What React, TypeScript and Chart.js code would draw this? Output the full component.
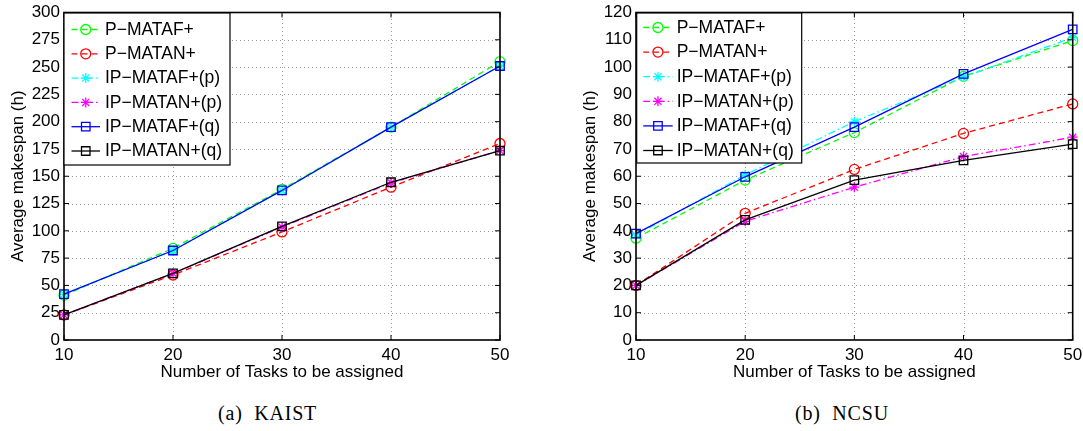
import React, { useEffect, useRef } from 'react';
import { Chart, registerables } from 'chart.js';

Chart.register(...registerables);

// ---------- data ----------
const tasks = [10, 20, 30, 40, 50];

const seriesLabels = [
  'P\u2212MATAF+',
  'P\u2212MATAN+',
  'IP\u2212MATAF+(p)',
  'IP\u2212MATAN+(p)',
  'IP\u2212MATAF+(q)',
  'IP\u2212MATAN+(q)',
];

// KAIST (left)
const kaistPMataf = [41, 84, 138, 195, 255];
const kaistPMatan = [23, 59.5, 99, 140, 180];
const kaistIPMatafP = [42, 82, 137, 195, 251];
const kaistIPMatanP = [23, 61, 103.5, 144, 173.5];
const kaistIPMatafQ = [42, 82, 137, 195, 251];
const kaistIPMatanQ = [23, 61, 104, 144.5, 173.5];

// NCSU (right)
const ncsuPMataf = [37.3, 58.6, 76, 96.6, 109.7];
const ncsuPMatan = [20, 46.4, 62.5, 75.7, 86.5];
const ncsuIPMatafP = [38.5, 60.5, 80, 96.4, 110.8];
const ncsuIPMatanP = [20, 43.5, 56, 67.2, 74.3];
const ncsuIPMatafQ = [39, 59.8, 78, 97.5, 113.8];
const ncsuIPMatanQ = [20, 44, 58.6, 65.8, 71.8];

const kaistYTicks = { max: 300, step: 25 };
const ncsuYTicks = { max: 120, step: 10 };

const xTitle = 'Number of Tasks to be assigned';
const yTitle = 'Average makespan (h)';
const captions = ['(a)  KAIST', '(b)  NCSU'];

// ---------- styles ----------
type Marker = 'circle' | 'rect' | 'star';
const seriesStyles: { color: string; dash: number[]; marker: Marker; radius: number }[] = [
  { color: '#00ff00', dash: [6, 4], marker: 'circle', radius: 5 },
  { color: '#ff0000', dash: [6, 4], marker: 'circle', radius: 5 },
  { color: '#00ffff', dash: [7, 3, 1.5, 3], marker: 'star', radius: 5 },
  { color: '#ff00ff', dash: [7, 3, 1.5, 3], marker: 'star', radius: 5 },
  { color: '#0000ff', dash: [], marker: 'rect', radius: 6 },
  { color: '#000000', dash: [], marker: 'rect', radius: 6 },
];

const FONT = '"Liberation Sans", Arial, Helvetica, sans-serif';
const CANVAS_H = 392;
const PLOT_TOP = 12.5;
const PLOT_BOTTOM = 340;

type LegendBox = {
  dx: number; dy: number; w: number; h: number;
  row0: number; rowGap: number; lineX0: number; lineX1: number; textX: number;
};

function drawMarker(ctx: CanvasRenderingContext2D, m: Marker, x: number, y: number, r: number) {
  ctx.beginPath();
  if (m === 'circle') {
    ctx.arc(x, y, r, 0, Math.PI * 2);
  } else if (m === 'rect') {
    const s = r * Math.SQRT1_2;
    ctx.rect(x - s, y - s, 2 * s, 2 * s);
  } else {
    for (let k = 0; k < 4; k++) {
      const a = (k * Math.PI) / 4;
      ctx.moveTo(x - Math.cos(a) * r, y - Math.sin(a) * r);
      ctx.lineTo(x + Math.cos(a) * r, y + Math.sin(a) * r);
    }
  }
  ctx.stroke();
}

function framePlugin(legend: LegendBox) {
  return {
    id: 'matlabFrame',
    beforeDatasetsDraw(chart: any) {
      const ctx: CanvasRenderingContext2D = chart.ctx;
      const { left, right, top, bottom } = chart.chartArea;
      const xs = chart.scales.x;
      const ys = chart.scales.y;
      ctx.save();
      ctx.strokeStyle = '#9a9a9a';
      ctx.lineWidth = 1;
      ctx.setLineDash([1, 3]);
      ys.ticks.forEach((t: any) => {
        const y = Math.round(ys.getPixelForValue(t.value)) + 0.5;
        if (y < top + 2 || y > bottom - 2) return;
        ctx.beginPath();
        ctx.moveTo(left, y); ctx.lineTo(right, y);
        ctx.stroke();
      });
      xs.ticks.forEach((t: any) => {
        const x = Math.round(xs.getPixelForValue(t.value)) + 0.5;
        if (x < left + 2 || x > right - 2) return;
        ctx.beginPath();
        ctx.moveTo(x, bottom); ctx.lineTo(x, top);
        ctx.stroke();
      });
      ctx.restore();
    },
    afterDraw(chart: any) {
      const ctx: CanvasRenderingContext2D = chart.ctx;
      const { left, right, top, bottom } = chart.chartArea;
      const xs = chart.scales.x;
      const ys = chart.scales.y;
      ctx.save();
      ctx.strokeStyle = '#000';
      ctx.lineWidth = 1;
      ctx.setLineDash([]);
      // inward ticks
      const tl = 5;
      ys.ticks.forEach((t: any) => {
        const y = ys.getPixelForValue(t.value);
        ctx.beginPath();
        ctx.moveTo(left, y); ctx.lineTo(left + tl, y);
        ctx.moveTo(right, y); ctx.lineTo(right - tl, y);
        ctx.stroke();
      });
      xs.ticks.forEach((t: any) => {
        const x = xs.getPixelForValue(t.value);
        ctx.beginPath();
        ctx.moveTo(x, bottom); ctx.lineTo(x, bottom - tl);
        ctx.moveTo(x, top); ctx.lineTo(x, top + tl);
        ctx.stroke();
      });
      // box
      ctx.lineWidth = 1.6;
      ctx.strokeRect(left, top, right - left, bottom - top);

      // legend
      const bx = left + legend.dx;
      const by = top + legend.dy;
      ctx.fillStyle = '#fff';
      ctx.fillRect(bx, by, legend.w, legend.h);
      ctx.lineWidth = 1.2;
      ctx.strokeStyle = '#000';
      ctx.strokeRect(bx, by, legend.w, legend.h);
      ctx.font = `17.5px ${FONT}`;
      ctx.textBaseline = 'middle';
      ctx.textAlign = 'left';
      chart.data.datasets.forEach((ds: any, i: number) => {
        const st = seriesStyles[i];
        const y = by + legend.row0 + i * legend.rowGap;
        ctx.strokeStyle = st.color;
        ctx.lineWidth = 1.3;
        ctx.setLineDash(st.dash);
        ctx.beginPath();
        ctx.moveTo(bx + legend.lineX0, y);
        ctx.lineTo(bx + legend.lineX1, y);
        ctx.stroke();
        ctx.setLineDash([]);
        drawMarker(ctx, st.marker, bx + (legend.lineX0 + legend.lineX1) / 2, y, st.radius);
        ctx.fillStyle = '#000';
        ctx.fillText(ds.label, bx + legend.textX, y + 0.5);
      });
      ctx.restore();
    },
  };
}

type PanelProps = {
  values: number[][];
  yMax: number;
  yStep: number;
  left: number;
  width: number;
  yAxisWidth: number;
  padRight: number;
  yTitlePad: number;
  legend: LegendBox;
};

function Panel(p: PanelProps) {
  const ref = useRef<HTMLCanvasElement>(null);
  useEffect(() => {
    if (!ref.current) return;
    const datasets = p.values.map((vals, i) => {
      const st = seriesStyles[i];
      return {
        label: seriesLabels[i],
        data: tasks.map((t, j) => ({ x: t, y: vals[j] })),
        borderColor: st.color,
        borderDash: st.dash,
        borderWidth: 1.3,
        pointStyle: st.marker,
        pointRadius: st.radius,
        pointBorderColor: st.color,
        pointBackgroundColor: 'rgba(0,0,0,0)',
        pointBorderWidth: 1.3,
        fill: false,
        tension: 0,
        clip: false as any,
        order: seriesStyles.length - i,
      };
    });
    const chart = new Chart(ref.current, {
      type: 'line',
      data: { datasets },
      options: {
        animation: false,
        responsive: false,
        maintainAspectRatio: false,
        layout: { padding: { left: 0, top: PLOT_TOP, right: p.padRight, bottom: 0 } },
        plugins: { legend: { display: false }, tooltip: { enabled: false } },
        scales: {
          x: {
            type: 'linear',
            min: 10,
            max: 50,
            ticks: { stepSize: 10, color: '#000', font: { family: FONT, size: 17 }, padding: 5, maxRotation: 0 },
            grid: { display: false, drawTicks: false },
            border: { display: false },
            title: {
              display: true,
              text: xTitle,
              color: '#000',
              font: { family: FONT, size: 17 },
              padding: { top: 0, bottom: 9.3 },
            },
            afterFit: (s: any) => {
              s.height = CANVAS_H - PLOT_BOTTOM;
              s.paddingLeft = 0;
              s.paddingRight = 0;
            },
          },
          y: {
            type: 'linear',
            min: 0,
            max: p.yMax,
            ticks: { stepSize: p.yStep, color: '#000', font: { family: FONT, size: 17 }, padding: 4 },
            grid: { display: false, drawTicks: false },
            border: { display: false },
            title: {
              display: true,
              text: yTitle,
              color: '#000',
              font: { family: FONT, size: 17 },
              padding: { top: p.yTitlePad, bottom: 0 },
            },
            afterFit: (s: any) => {
              s.width = p.yAxisWidth;
              s.paddingTop = 0;
              s.paddingBottom = 0;
            },
          },
        },
      } as any,
      plugins: [framePlugin(p.legend)],
    });
    return () => chart.destroy();
  }, []);
  return (
    <canvas
      ref={ref}
      width={p.width}
      height={CANVAS_H}
      style={{ position: 'absolute', left: p.left, top: 0, width: p.width, height: CANVAS_H }}
    />
  );
}

const captionStyle: React.CSSProperties = {
  position: 'absolute',
  top: 401,
  fontFamily: '"Liberation Serif", "DejaVu Serif", serif',
  fontSize: 20,
  letterSpacing: '0.8px',
  whiteSpace: 'pre',
  color: '#000',
  lineHeight: '24px',
};

export default function App() {
  return (
    <div style={{ position: 'absolute', left: 0, top: 0, width: 1083, height: 431, background: '#fff', overflow: 'hidden' }}>
      <Panel
        values={[kaistPMataf, kaistPMatan, kaistIPMatafP, kaistIPMatanP, kaistIPMatafQ, kaistIPMatanQ]}
        yMax={kaistYTicks.max}
        yStep={kaistYTicks.step}
        left={0}
        width={545}
        yAxisWidth={64}
        padRight={45}
        yTitlePad={7.8}
        legend={{ dx: 0, dy: 0.5, w: 166, h: 152, row0: 16.5, rowGap: 24.3, lineX0: 7.5, lineX1: 36, textX: 41 }}
      />
      <Panel
        values={[ncsuPMataf, ncsuPMatan, ncsuIPMatafP, ncsuIPMatanP, ncsuIPMatafQ, ncsuIPMatanQ]}
        yMax={ncsuYTicks.max}
        yStep={ncsuYTicks.step}
        left={545}
        width={538}
        yAxisWidth={91}
        padRight={10.3}
        yTitlePad={34.8}
        legend={{ dx: 0.7, dy: 0.5, w: 165, h: 150, row0: 14.5, rowGap: 24.6, lineX0: 6.5, lineX1: 36, textX: 40 }}
      />
      <div style={{ ...captionStyle, left: 218 }}>{captions[0]}</div>
      <div style={{ ...captionStyle, left: 795 }}>{captions[1]}</div>
    </div>
  );
}
